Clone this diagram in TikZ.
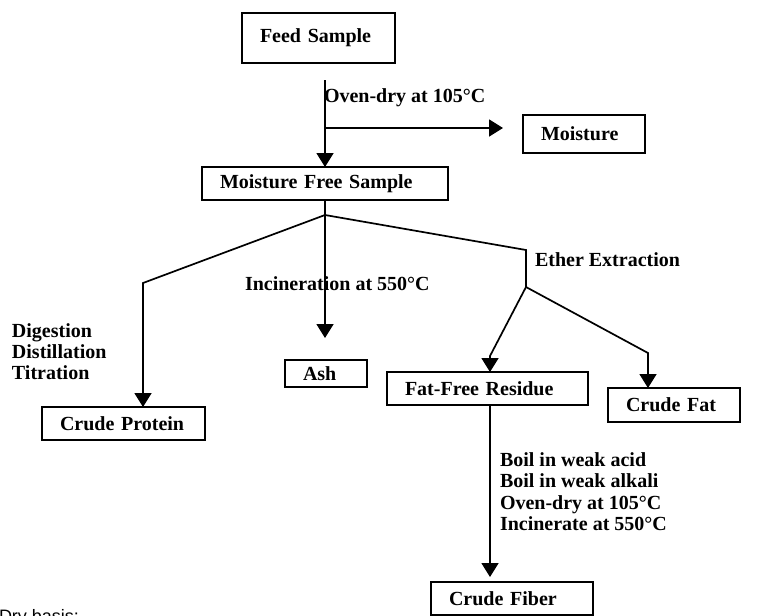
\documentclass[tikz,border=0pt]{standalone}
\usepackage{fontspec}
\setmainfont{Liberation Serif}
\newfontfamily\drysans{Liberation Sans}
\usetikzlibrary{arrows.meta}
\begin{document}
\begin{tikzpicture}[x=1pt,y=-1pt,
  font=\fontsize{20}{21}\selectfont\bfseries,
  box/.style={draw, line width=1.3pt, inner xsep=18pt, inner ysep=0pt, outer sep=0pt, align=left},
  conn/.style={line width=1.7pt},
  arr/.style={conn, -{Triangle[length=14pt,width=17pt]}},
  lbl/.style={inner sep=0pt, outer sep=0pt}]
\useasboundingbox (0,0) rectangle (764,616);
\fill[white] (0,0) rectangle (764,616);

% boxes
\node[box, text width=117pt, minimum height=50pt] (feed) at (318.5,38) {\mbox{Feed Sample}};
\node[box, text width=86pt, minimum height=38pt] (moist) at (584,134) {\mbox{Moisture}};
\node[box, text width=210pt, minimum height=33pt] (mfs) at (325,183.5) {\mbox{Moisture Free Sample}};
\node[box, text width=46pt, minimum height=27pt] (ash) at (326,373.5) {\mbox{Ash}};
\node[box, text width=127pt, minimum height=33pt] (cp) at (123.5,423.5) {\mbox{Crude Protein}};
\node[box, text width=165pt, minimum height=33pt] (ffr) at (487.5,388.5) {\mbox{Fat-Free Residue}};
\node[box, text width=96pt, minimum height=34pt] (cfat) at (674,405) {\mbox{Crude Fat}};
\node[box, text width=126pt, minimum height=33pt] (cfib) at (512,598.5) {\mbox{Crude Fiber}};

% labels
\node[lbl, anchor=west] (oven) at (324,98) {Oven-dry at 105°C};
\node[lbl, anchor=west] (incin) at (245,284) {Incineration at 550°C};
\node[lbl, anchor=west] (ether) at (535,260) {Ether Extraction};
\node[lbl, anchor=west, align=left] (dig) at (12,352) {Digestion\\Distillation\\Titration};
\node[lbl, anchor=west, align=left, font=\fontsize{20}{21.5}\selectfont\bfseries] (fibsteps) at (500,491.5)
  {Boil in weak acid\\Boil in weak alkali\\Oven-dry at 105°C\\Incinerate at 550°C};
\node[lbl, anchor=base west, font=\drysans\fontsize{18}{18}\selectfont] (dry) at (-1,622) {Dry basis:};

% coordinates
\coordinate (a1) at (325,80);
\coordinate (a2) at (325,128);
\coordinate (a2end) at (503,128);
\coordinate (j) at (325,215);
\coordinate (c1) at (143,283);
\coordinate (ashtip) at (325,338);
\coordinate (c2) at (526,250);
\coordinate (j2) at (526,287);
\coordinate (c3) at (490,356);
\coordinate (c4) at (648,353);
\coordinate (fibtip) at (490,577);

% connectors
\draw[arr] (a1) -- (mfs.north);
\draw[arr] (a2) -- (a2end);
\draw[conn] (mfs.south) -- (j);
\draw[arr] (j) -- (c1) -- (c1 |- cp.north);
\draw[arr] (j) -- (ashtip);
\draw[conn] (j) -- (c2) -- (j2);
\draw[arr] (j2) -- (c3) -- (c3 |- ffr.north);
\draw[arr] (j2) -- (c4) -- (c4 |- cfat.north);
\draw[arr] (c3 |- ffr.south) -- (fibtip);
\end{tikzpicture}
\end{document}
